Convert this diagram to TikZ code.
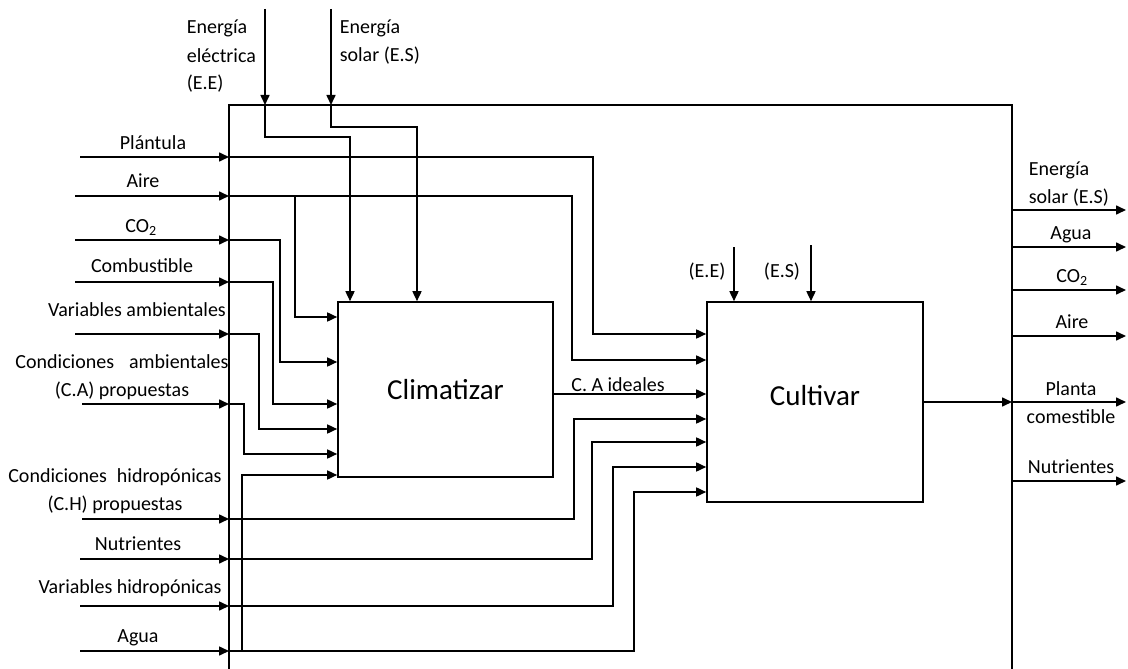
\documentclass[tikz,border=0pt]{standalone}
\usepackage{fontspec}
\setmainfont{Carlito}
\usetikzlibrary{arrows.meta,positioning}

\begin{document}
\begin{tikzpicture}[
  x=1pt, y=-1pt,
  font=\fontsize{20}{28}\selectfont,
  line width=1.6pt,
  proc/.style={draw, line width=1.6pt, inner sep=0pt, font=\fontsize{29}{34}\selectfont},
  lbl/.style={inner sep=0pt, anchor=base, align=center},
  arr/.style={-{Triangle[length=10pt, width=9pt]}}
]
  \useasboundingbox (0,0) rectangle (1128,669);
  % outer frame (open at the bottom)
  \coordinate (ftl) at (229,105);
  \coordinate (ftr) at (1012,105);
  \draw (ftl |- 0,675) -- (ftl) -- (ftr) -- (ftr |- 0,675);

  % processes
  \node[proc, minimum width=215pt, minimum height=175pt] (clim) at (445.5,389.5) {Climatizar};
  \node[proc, minimum width=216pt, minimum height=200pt, text depth=14pt] (cult) at (815,402) {Cultivar};

  % energy from the top
  \coordinate (ee) at (265,9);
  \coordinate (es) at (331,9);
  \node[lbl, align=left, anchor=base west] (lEE) at (186,90) {Energía\\eléctrica\\(E.E)};
  \node[lbl, align=left, anchor=base west] (lES) at (339,62) {Energía\\solar (E.S)};
  \draw[arr] (ee) -- (ee |- ftl);
  \draw[arr] (es) -- (es |- ftl);
  \draw[arr] (ee |- ftl) |- (350,137) -- (350,0 |- clim.north);
  \draw[arr] (es |- ftl) |- (417,127) -- (417,0 |- clim.north);

  % inputs on the left
  \coordinate (iPla) at (80,157);
  \coordinate (iAir) at (75,196);
  \coordinate (iCO) at (75,240);
  \coordinate (iCom) at (75,282);
  \coordinate (iVam) at (75,334);
  \coordinate (iCap) at (82,404);
  \coordinate (iChp) at (82,519);
  \coordinate (iNut) at (80,559);
  \coordinate (iVhi) at (80,606);
  \coordinate (iAgu) at (80,651);
  \node[lbl] (lPla) at (153,149) {Plántula};
  \node[lbl] (lAir) at (143,187) {Aire};
  \node[lbl] (lCO) at (141,232) {CO\textsubscript{2}};
  \node[lbl] (lCom) at (142,272) {Combustible};
  \node[lbl] (lVam) at (137,316) {Variables ambientales};
  \node[lbl] (lCap) at (122,396) {Condiciones\hspace{15pt}ambientales\\(C.A) propuestas};
  \node[lbl] (lChp) at (115,510) {Condiciones\hspace{10pt}hidropónicas\\(C.H) propuestas};
  \node[lbl] (lNut) at (138,550) {Nutrientes};
  \node[lbl] (lVhi) at (130,593) {Variables hidropónicas};
  \node[lbl] (lAgu) at (138,642) {Agua};
  \draw[arr] (iPla) -- (ftl |- iPla);
  \draw[arr] (iAir) -- (ftl |- iAir);
  \draw[arr] (iCO) -- (ftl |- iCO);
  \draw[arr] (iCom) -- (ftl |- iCom);
  \draw[arr] (iVam) -- (ftl |- iVam);
  \draw[arr] (iCap) -- (ftl |- iCap);
  \draw[arr] (iChp) -- (ftl |- iChp);
  \draw[arr] (iNut) -- (ftl |- iNut);
  \draw[arr] (iVhi) -- (ftl |- iVhi);
  \draw[arr] (iAgu) -- (ftl |- iAgu);

  % routing into Climatizar
  \draw[arr] (295,0 |- iAir) |- (clim.west |- 0,317);
  \draw[arr] (ftl |- iCO) -| (280,362) -- (clim.west |- 0,362);
  \draw[arr] (ftl |- iCom) -| (273,404) -- (clim.west |- 0,404);
  \draw[arr] (ftl |- iVam) -| (259,429) -- (clim.west |- 0,429);
  \draw[arr] (ftl |- iCap) -| (244,454) -- (clim.west |- 0,454);
  \draw[arr] (242,0 |- iAgu) |- (clim.west |- 0,475);

  % routing into Cultivar
  \draw[arr] (ftl |- iPla) -| (593,334) -- (cult.west |- 0,334);
  \draw[arr] (ftl |- iAir) -| (572,360) -- (cult.west |- 0,360);
  \draw[arr] (clim.east |- 0,394) -- (cult.west |- 0,394);
  \node[lbl] (lIdeal) at (618,391) {C. A ideales};
  \draw[arr] (ftl |- iChp) -| (574,419) -- (cult.west |- 0,419);
  \draw[arr] (ftl |- iNut) -| (592,442) -- (cult.west |- 0,442);
  \draw[arr] (ftl |- iVhi) -| (613,467) -- (cult.west |- 0,467);
  \draw[arr] (ftl |- iAgu) -| (634,492) -- (cult.west |- 0,492);

  % energy into Cultivar
  \coordinate (cEE) at (734,247);
  \coordinate (cES) at (811,245);
  \node[lbl] (lcEE) at (707,277) {(E.E)};
  \node[lbl] (lcES) at (782,277) {(E.S)};
  \draw[arr] (cEE) -- (cEE |- cult.north);
  \draw[arr] (cES) -- (cES |- cult.north);

  % outputs on the right
  \draw[arr] (cult.east) -- (ftr |- cult.east);
  \coordinate (oES) at (1126,210);
  \coordinate (oAgu) at (1126,247);
  \coordinate (oCO) at (1126,290);
  \coordinate (oAir) at (1126,336);
  \coordinate (oPla) at (1126,402);
  \coordinate (oNut) at (1126,481);
  \node[lbl, align=left, anchor=base west] (lrES) at (1028,203) {Energía\\solar (E.S)};
  \node[lbl] (lrAgu) at (1071,239) {Agua};
  \node[lbl] (lrCO) at (1072,282) {CO\textsubscript{2}};
  \node[lbl] (lrAir) at (1072,328) {Aire};
  \node[lbl] (lrPla) at (1071,423) {Planta\\comestible};
  \node[lbl] (lrNut) at (1071,473) {Nutrientes};
  \draw[arr] (ftr |- oES) -- (oES);
  \draw[arr] (ftr |- oAgu) -- (oAgu);
  \draw[arr] (ftr |- oCO) -- (oCO);
  \draw[arr] (ftr |- oAir) -- (oAir);
  \draw[arr] (ftr |- oPla) -- (oPla);
  \draw[arr] (ftr |- oNut) -- (oNut);
\end{tikzpicture}
\end{document}
